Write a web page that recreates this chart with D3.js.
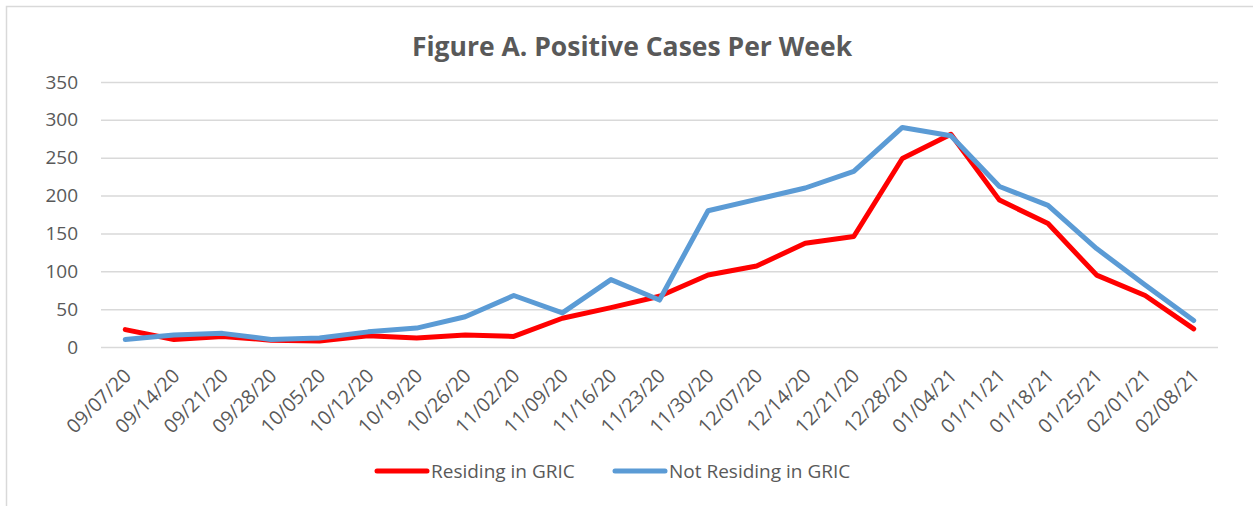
<!DOCTYPE html>
<head>
  <meta charset="utf-8">
  <script src="https://d3js.org/d3.v7.min.js"></script>
  <style>
    body { margin: 0; background: #fff; }
    text { font-family: "Open Sans", sans-serif; fill: #595959; }
  </style>
</head>
<body>

<div id="my_dataviz"></div>

<script>

  // weeks (category axis)
  var weeks = ["09/07/20","09/14/20","09/21/20","09/28/20","10/05/20","10/12/20","10/19/20","10/26/20",
               "11/02/20","11/09/20","11/16/20","11/23/20","11/30/20","12/07/20","12/14/20","12/21/20",
               "12/28/20","01/04/21","01/11/21","01/18/21","01/25/21","02/01/21","02/08/21"];

  // positive cases per week
  var residing    = [23, 10, 14, 9, 8, 15, 12, 16, 14, 38, 52, 67, 95, 107, 137, 146, 249, 281, 194, 163, 95, 68, 24];
  var notResiding = [10, 16, 18, 10, 12, 20, 25, 40, 68, 45, 89, 62, 180, 195, 210, 232, 290, 279, 212, 187, 130, 82, 35];

  var yTicks = [0, 50, 100, 150, 200, 250, 300, 350];

  var seriesNames = ["Residing in GRIC", "Not Residing in GRIC"];
  var seriesColors = ["#FF0000", "#5B9BD5"];

  var W = 1253, H = 506;
  var margin = {top: 82, right: 35, bottom: 159, left: 101},
    width = W - margin.left - margin.right,
    height = H - margin.top - margin.bottom;

  var root = d3.select("#my_dataviz")
    .append("svg")
      .attr("width", W)
      .attr("height", H);

  // chart border
  root.append("rect")
    .attr("x", 6.5).attr("y", 6.5)
    .attr("width", W).attr("height", H)
    .attr("fill", "none")
    .attr("stroke", "#d9d9d9")
    .attr("stroke-width", 1.5);

  // title
  root.append("text")
    .attr("x", 632)
    .attr("y", 56)
    .attr("text-anchor", "middle")
    .style("font-size", "26.5px")
    .style("font-weight", "bold")
    .text("Figure A. Positive Cases Per Week");

  var svg = root.append("g")
    .attr("transform", "translate(" + margin.left + "," + margin.top + ")");

  var x = d3.scaleBand()
    .domain(weeks)
    .range([0, width])
    .padding(0);

  var y = d3.scaleLinear()
    .domain([0, 350])
    .range([height, 0]);

  // gridlines
  svg.append("g")
    .call(d3.axisLeft(y).tickValues(yTicks).tickSize(-width).tickFormat(""))
    .call(function(g) { g.select(".domain").remove(); })
    .selectAll(".tick line")
      .attr("stroke", "#d9d9d9")
      .attr("stroke-width", 1.5);

  // y labels
  var yAxis = svg.append("g")
    .call(d3.axisLeft(y).tickValues(yTicks).tickSize(0).tickPadding(23))
    .call(function(g) { g.select(".domain").remove(); });
  yAxis.selectAll("text")
    .style("font-size", "19px")
    .style("fill", "#595959");

  // x labels
  var xAxis = svg.append("g")
    .attr("transform", "translate(0," + height + ")")
    .call(d3.axisBottom(x).tickSize(0))
    .call(function(g) { g.select(".domain").remove(); });
  xAxis.selectAll("text")
    .attr("text-anchor", "end")
    .attr("dy", null)
    .attr("y", null)
    .attr("transform", "translate(7,30) rotate(-45)")
    .style("font-size", "19.5px")
    .style("fill", "#595959");

  // lines
  var series = [residing, notResiding];
  var line = d3.line()
    .x(function(d, i) { return x(weeks[i]) + x.bandwidth() / 2; })
    .y(function(d) { return y(d); });

  svg.selectAll(".series")
    .data(series)
    .enter()
    .append("path")
      .attr("class", "series")
      .attr("d", line)
      .attr("fill", "none")
      .attr("stroke", function(d, i) { return seriesColors[i]; })
      .attr("stroke-width", 5)
      .attr("stroke-linejoin", "round")
      .attr("stroke-linecap", "round");

  // legend
  var legendX = [377, 615];
  var legend = root.selectAll(".legend")
    .data(seriesNames)
    .enter()
    .append("g")
      .attr("class", "legend")
      .attr("transform", function(d, i) { return "translate(" + legendX[i] + ",471)"; });

  legend.append("line")
    .attr("x1", 0).attr("x2", 50)
    .attr("stroke", function(d, i) { return seriesColors[i]; })
    .attr("stroke-width", 5)
    .attr("stroke-linecap", "round");

  legend.append("text")
    .attr("x", 54)
    .attr("y", 7)
    .style("font-size", "19px")
    .text(function(d) { return d; });

</script>

</body>
